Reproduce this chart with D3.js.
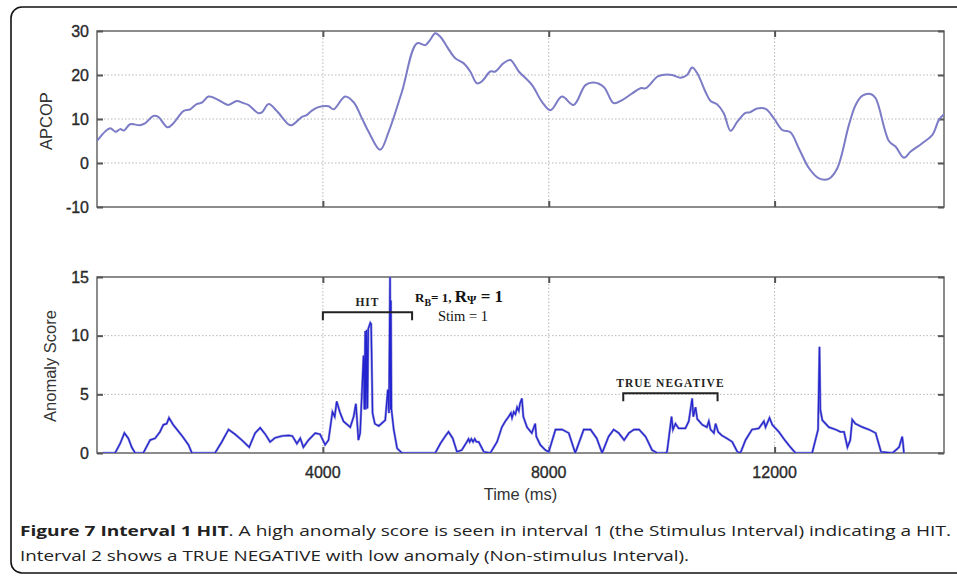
<!DOCTYPE html>
<html><head><meta charset="utf-8">
<script src="https://cdn.jsdelivr.net/npm/d3@7"></script>
<style>body{margin:0;background:#fff;} svg{display:block;}</style>
</head><body>
<svg id="chart" width="957" height="576"></svg>
<script>
// ---- data ----
const apcopTime = [0,230,330,410,480,585,760,850,1000,1085,1250,1350,1530,1650,1765,1855,1975,2090,2210,2330,2475,2595,2680,2860,2920,3040,3185,3390,3450,3630,3715,3805,3920,4100,4190,4395,4545,4690,4810,5015,5165,5400,5665,5815,5900,5990,6080,6200,6345,6490,6610,6730,6820,6965,7055,7200,7320,7470,7705,7880,8030,8235,8440,8650,8795,8975,9150,9300,9475,9625,9720,9920,10010,10185,10335,10450,10540,10630,10775,10865,10985,11100,11220,11340,11485,11560,11690,11840,11985,12135,12280,12430,12610,12785,12960,13110,13315,13435,13555,13700,13790,14025,14145,14290,14410,14615,14795,14910,15000];
const apcopValue = [5.0,7.9,7.1,7.7,7.4,8.8,8.6,9.0,10.7,10.5,8.1,9.0,11.8,12.2,13.4,13.7,15.1,14.7,13.9,13.2,14.1,13.6,13.2,11.3,11.5,13.4,11.8,8.8,8.6,10.5,10.9,11.9,12.7,12.9,12.2,15.1,13.8,10.2,7.1,3.0,7.1,16.2,27.2,26.8,28.0,29.5,28.7,26.4,23.8,22.7,20.8,18.1,18.6,20.8,20.8,22.7,23.4,20.8,17.7,13.9,12.0,15.1,13.2,17.7,18.3,17.3,13.6,14.3,15.8,17.0,17.0,19.6,20.0,20.0,19.4,20.0,21.7,20.4,16.2,14.1,13.3,11.3,7.3,9.4,11.4,11.5,12.4,12.3,10.2,7.5,7.0,3.3,-1.2,-3.5,-3.6,-1.2,8.6,13.2,15.3,15.7,14.7,5.0,3.7,1.2,2.6,4.5,6.4,9.8,11.1];

const anomalyTime = [100,320,410,485,555,615,675,820,940,1030,1115,1175,1235,1275,1350,1500,1620,1680,2090,2210,2330,2445,2565,2695,2800,2890,2980,3065,3155,3275,3390,3460,3540,3600,3655,3745,3865,3950,4040,4100,4170,4210,4245,4300,4365,4485,4545,4585,4630,4660,4720,4735,4750,4760,4775,4790,4805,4840,4855,4880,4920,4990,5105,5150,5170,5190,5200,5205,5215,5255,5315,5400,5990,6080,6170,6225,6300,6375,6460,6550,6580,6600,6630,6660,6690,6720,6760,6850,6965,7085,7170,7230,7290,7330,7350,7380,7410,7440,7470,7490,7525,7550,7615,7700,7760,7780,7850,7940,8000,8120,8235,8355,8470,8620,8740,8850,8945,9060,9150,9240,9335,9420,9510,9600,9715,9830,9920,10070,10095,10175,10200,10245,10300,10420,10480,10540,10560,10600,10630,10720,10800,10835,10865,10925,10955,11000,11065,11150,11250,11340,11395,11485,11600,11720,11810,11840,11910,11960,12075,12180,12280,12370,12665,12770,12795,12810,12845,12960,13080,13165,13230,13290,13340,13375,13430,13555,13670,13790,13885,14090,14205,14260,14275,14290];
const anomalyValue = [0,0,0.8,1.7,1.25,0.5,0,0,1.1,1.25,1.8,2.4,2.5,3.0,2.4,1.5,0.7,0,0,0.95,2.0,1.6,1.1,0.5,1.7,2.15,1.6,0.95,1.3,1.45,1.5,1.45,0.8,1.25,0.5,1.1,1.7,1.6,0.7,1.1,3.5,3.1,4.4,3.5,2.7,2.2,3.1,4.2,1.1,1.7,8.3,3.7,10.4,3.7,10.5,3.8,10.6,11.1,11.0,3.4,2.5,2.3,2.8,5.4,3.4,15.2,3.7,13.0,3.7,2.0,0.4,0,0,0.8,1.45,1.8,1.25,0.1,0.25,0.95,1.2,0.95,1.2,0.95,1.2,0.95,0.95,0.1,0,0.95,2.2,2.7,3.1,3.4,3.0,3.5,3.3,3.9,3.6,4.2,4.65,3.1,2.2,1.7,2.5,1.4,0.7,0.25,0.1,2.0,2.0,1.7,0,2.0,2.0,1.25,0,1.4,2.0,1.7,1.1,1.7,2.0,2.0,1.4,0.25,0,0,0.1,3.1,2.0,2.5,2.1,2.1,2.7,4.65,3.1,3.9,2.9,2.4,2.2,2.7,2.0,1.7,2.5,1.8,1.5,1.25,0.95,0.1,0,1.1,2.0,2.1,2.7,2.2,3.0,2.4,1.8,1.1,0.5,0,0,2.0,9.05,3.7,2.8,2.2,2.0,1.8,1.8,0.5,1.1,2.85,2.5,2.2,2.0,1.7,0.1,0,0.5,1.4,0.8,0];

const xTicks = [4000, 8000, 12000];
const apcopTicks = [-10, 0, 10, 20, 30];
const anomalyTicks = [0, 5, 10, 15];
const brackets = [
  {label: "HIT", start: 4000, end: 5580, level: 12.0},
  {label: "TRUE NEGATIVE", start: 9320, end: 10990, level: 5.1}
];

// ---- layout ----
const svg = d3.select("#chart");
const L = 97, R = 944;
const x = d3.scaleLinear().domain([0, 15000]).range([L, R]);
const yTop = d3.scaleLinear().domain([-10, 30]).range([207, 31]);
const yBot = d3.scaleLinear().domain([0, 15]).range([453, 277]);

// outer frame
svg.append("rect").attr("x", 11).attr("y", 7).attr("width", 980).attr("height", 566)
  .attr("rx", 11).attr("fill", "none").attr("stroke", "#111").attr("stroke-width", 1.6);

const axisColor = "#666";
const font = "Liberation Sans, Arial, sans-serif";

function panel(y, ticks, id) {
  const g = svg.append("g");
  const [y0, y1] = y.range();
  g.append("clipPath").attr("id", id).append("rect")
    .attr("x", L).attr("y", y1).attr("width", R - L).attr("height", y0 - y1);
  // grid
  g.selectAll(".hg").data(ticks.filter(t => t !== y.domain()[0] && t !== y.domain()[1]))
    .enter().append("line")
    .attr("x1", L).attr("x2", R).attr("y1", d => y(d)).attr("y2", d => y(d))
    .attr("stroke", "#b8b8b8").attr("stroke-width", 1).attr("stroke-dasharray", "1.5,2");
  g.selectAll(".vg").data(xTicks).enter().append("line")
    .attr("x1", d => x(d)).attr("x2", d => x(d)).attr("y1", y1).attr("y2", y0)
    .attr("stroke", "#b8b8b8").attr("stroke-width", 1).attr("stroke-dasharray", "1.5,2");
  // box
  g.append("rect").attr("x", L).attr("y", y1).attr("width", R - L).attr("height", y0 - y1)
    .attr("fill", "none").attr("stroke", axisColor).attr("stroke-width", 1.5);
  // inner ticks (matlab style) via d3 axes
  const tl = 6;
  const gl = g.append("g").attr("transform", `translate(${L},0)`).call(d3.axisLeft(y).tickValues(ticks).tickSize(-tl).tickFormat(""));
  const gr = g.append("g").attr("transform", `translate(${R},0)`).call(d3.axisRight(y).tickValues(ticks).tickSize(-tl).tickFormat(""));
  const gt = g.append("g").attr("transform", `translate(0,${y1})`).call(d3.axisTop(x).tickValues(xTicks).tickSize(-tl).tickFormat(""));
  const gb = g.append("g").attr("transform", `translate(0,${y0})`).call(d3.axisBottom(x).tickValues(xTicks).tickSize(-tl).tickFormat(""));
  [gl, gr, gt, gb].forEach(a => {
    a.select(".domain").remove();
    a.selectAll("line").attr("stroke", "#555").attr("stroke-width", 2);
  });
  // y tick labels
  g.selectAll(".yl").data(ticks).enter().append("text")
    .attr("x", L - 8).attr("y", d => y(d)).attr("dy", "0.36em")
    .attr("text-anchor", "end").attr("font-family", font).attr("font-size", 16)
    .attr("fill", "#2a2a2a").attr("stroke", "#2a2a2a").attr("stroke-width", 0.35).text(d => d);
  return g;
}

const gTop = panel(yTop, apcopTicks, "clipTop");
const gBot = panel(yBot, anomalyTicks, "clipBot");

// top line
const apcop = apcopTime.map((t, i) => [t, apcopValue[i]]);
gTop.append("path").datum(apcop)
  .attr("clip-path", "url(#clipTop)")
  .attr("fill", "none").attr("stroke", "#7b7bc6").attr("stroke-width", 2)
  .attr("d", d3.line().x(d => x(d[0])).y(d => yTop(d[1])).curve(d3.curveCatmullRom.alpha(0.5)));

// bottom line
const anomaly = anomalyTime.map((t, i) => [t, anomalyValue[i]]);
const lineBot = d3.line().x(d => x(d[0])).y(d => yBot(d[1]));
gBot.append("path").datum(anomaly).attr("clip-path", "url(#clipBot)")
  .attr("fill", "none").attr("stroke", "#8c8cd8").attr("stroke-width", 2.4).attr("d", lineBot);
gBot.append("path").datum(anomaly).attr("clip-path", "url(#clipBot)")
  .attr("fill", "none").attr("stroke", "#2323d0").attr("stroke-width", 1.2).attr("d", lineBot);

// x tick labels
svg.selectAll(".xl").data(xTicks).enter().append("text")
  .attr("x", d => x(d)).attr("y", 478).attr("text-anchor", "middle")
  .attr("font-family", font).attr("font-size", 16).attr("fill", "#2a2a2a")
  .attr("stroke", "#2a2a2a").attr("stroke-width", 0.35).text(d => d);

// axis titles
svg.append("text").attr("x", (L + R) / 2).attr("y", 500).attr("text-anchor", "middle")
  .attr("font-family", font).attr("font-size", 16.5).attr("fill", "#333").text("Time (ms)");
svg.append("text").attr("transform", `translate(52,121) rotate(-90)`).attr("text-anchor", "middle")
  .attr("font-family", font).attr("font-size", 16.5).attr("fill", "#333").text("APCOP");
svg.append("text").attr("transform", `translate(56,366) rotate(-90)`).attr("text-anchor", "middle")
  .attr("font-family", font).attr("font-size", 16.5).attr("fill", "#333").text("Anomaly Score");

// brackets
const serif = "Liberation Serif, Times New Roman, serif";
brackets.forEach(b => {
  const yb = yBot(b.level);
  svg.append("path")
    .attr("d", `M${x(b.start)},${yb + 8}V${yb}H${x(b.end)}V${yb + 8}`)
    .attr("fill", "none").attr("stroke", "#222").attr("stroke-width", 2);
  svg.append("text").attr("x", (x(b.start) + x(b.end)) / 2).attr("y", yb - 6)
    .attr("text-anchor", "middle").attr("font-family", serif).attr("font-weight", "bold")
    .attr("font-size", 11.5).attr("letter-spacing", 1).attr("fill", "#222").text(b.label);
});

// R annotation
const rt = svg.append("text").attr("x", 415).attr("y", 302).attr("font-family", serif).attr("fill", "#111");
rt.append("tspan").attr("font-size", 13).attr("font-weight", "bold").text("R");
rt.append("tspan").attr("font-size", 10).attr("font-weight", "bold").attr("dy", 4).text("B");
rt.append("tspan").attr("font-size", 13).attr("font-weight", "bold").attr("dy", -4).text("= 1, ");
rt.append("tspan").attr("font-size", 17).attr("font-weight", "bold").text("R");
rt.append("tspan").attr("font-size", 12).attr("font-weight", "bold").attr("dy", 2).text("Ψ");
rt.append("tspan").attr("font-size", 17).attr("font-weight", "bold").attr("dy", -2).text(" = 1");
svg.append("text").attr("x", 463).attr("y", 321).attr("text-anchor", "middle")
  .attr("font-family", serif).attr("font-size", 14.5).attr("fill", "#111").text("Stim = 1");

// caption
const cap = "Open Sans, Noto Sans, sans-serif";
const c1 = svg.append("text").attr("x", 20).attr("y", 536).attr("font-family", cap)
  .attr("font-size", 15).attr("fill", "#222")
  .attr("textLength", 931).attr("lengthAdjust", "spacingAndGlyphs");
c1.append("tspan").attr("font-weight", "bold").text("Figure 7 Interval 1 HIT");
c1.append("tspan").text(". A high anomaly score is seen in interval 1 (the Stimulus Interval) indicating a HIT.");
svg.append("text").attr("x", 20).attr("y", 561).attr("font-family", cap)
  .attr("font-size", 15).attr("fill", "#222")
  .attr("textLength", 669).attr("lengthAdjust", "spacingAndGlyphs")
  .text("Interval 2 shows a TRUE NEGATIVE with low anomaly (Non-stimulus Interval).");
</script>
</body></html>
